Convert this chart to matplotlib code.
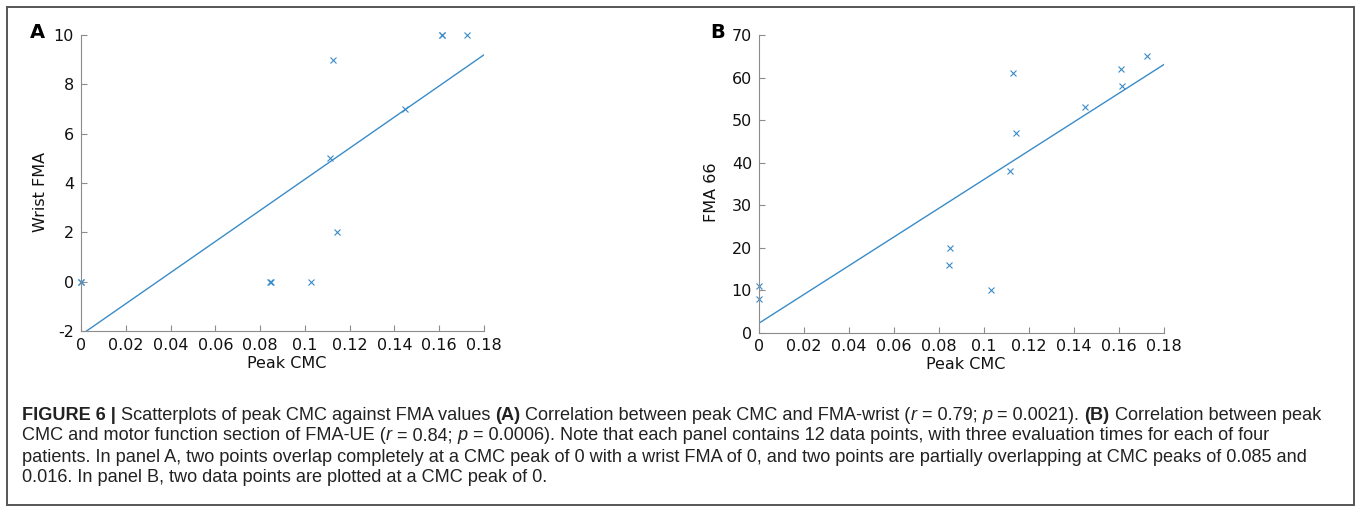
import numpy as np
import matplotlib
matplotlib.use("Agg")
import matplotlib.pyplot as plt
from matplotlib.patches import Rectangle

# --- Data ---
cmc_a = [0.0, 0.0, 0.0845, 0.085, 0.1027, 0.1114, 0.1127, 0.1142, 0.1449, 0.1612, 0.1613, 0.1726]
wrist_fma = [0, 0, 0, 0, 0, 5, 9, 2, 7, 10, 10, 10]

cmc_b = [0.0, 0.0, 0.0844, 0.0849, 0.1030, 0.1114, 0.1127, 0.1142, 0.1447, 0.1609, 0.1613, 0.1723]
fma_66 = [11, 8, 16, 20, 10, 38, 61, 47, 53, 62, 58, 65]

x_ticks = [0, 0.02, 0.04, 0.06, 0.08, 0.1, 0.12, 0.14, 0.16, 0.18]
x_ticklabels = ["0", "0.02", "0.04", "0.06", "0.08", "0.1", "0.12", "0.14", "0.16", "0.18"]
y_ticks_a = [-2, 0, 2, 4, 6, 8, 10]
y_ticks_b = [0, 10, 20, 30, 40, 50, 60, 70]

BLUE = "#3a8cc8"
SPINE = "#8c8c8c"

W, H = 1358, 511
fig = plt.figure(figsize=(W / 100, H / 100), dpi=100)


def draw_panel(rect, x, y, yticks, ylabel, ylabel_x, letter, letter_xy):
    ax = fig.add_axes(rect)
    ax.plot(x, y, "x", color=BLUE, ms=4.5, mew=0.8, clip_on=False)
    # least-squares fit line over the plotted x range
    slope, icpt = np.polyfit(x, y, 1)
    xl = np.array([0, 0.18])
    ax.plot(xl, slope * xl + icpt, color=BLUE, lw=1.0)
    ax.set_xlim(0, 0.18)
    ax.set_ylim(yticks[0], yticks[-1])
    ax.set_xticks(x_ticks)
    ax.set_xticklabels(x_ticklabels)
    ax.set_yticks(yticks)
    ax.set_yticklabels([str(v) for v in yticks])
    for s in ["top", "right"]:
        ax.spines[s].set_visible(False)
    for s in ["left", "bottom"]:
        ax.spines[s].set_color(SPINE)
        ax.spines[s].set_linewidth(0.8)
    ax.tick_params(direction="in", length=4, width=0.8, color=SPINE,
                   labelsize=11.5, labelcolor="#111111", pad=5)
    ax.set_xlabel("Peak CMC", fontsize=11.5, color="#111111")
    ax.set_ylabel(ylabel, fontsize=11.5, color="#111111")
    ax.xaxis.set_label_coords(0.51, -0.083)
    ax.yaxis.set_label_coords(ylabel_x, 0.47)
    fig.text(letter_xy[0] / W, 1 - letter_xy[1] / H, letter, fontsize=14,
             fontweight="bold", ha="center", va="center")
    return ax


draw_panel([81 / W, 1 - 331 / H, 403 / W, 296 / H], cmc_a, wrist_fma,
           y_ticks_a, "Wrist FMA", -0.082, "A", (37, 32))
draw_panel([759 / W, 1 - 332.5 / H, 405 / W, 297.5 / H], cmc_b, fma_66,
           y_ticks_b, "FMA 66", -0.10, "B", (718, 32))

# outer frame around plots and caption
fig.patches.append(Rectangle((7 / W, 1 - 505 / H), 1347 / W, 498 / H,
                             transform=fig.transFigure, fill=False,
                             edgecolor="#555555", lw=1.4))

# --- Caption, drawn piece by piece for mixed styles ---
N, B_, I_ = "normal", "bold", "italic"
caption = [
    [("FIGURE 6 | ", B_), ("Scatterplots of peak CMC against FMA values ", N), ("(A)", B_),
     (" Correlation between peak CMC and FMA-wrist (", N), ("r", I_), (" = 0.79; ", N),
     ("p", I_), (" = 0.0021). ", N), ("(B)", B_), (" Correlation between peak", N)],
    [("CMC and motor function section of FMA-UE (", N), ("r", I_), (" = 0.84; ", N), ("p", I_),
     (" = 0.0006). Note that each panel contains 12 data points, with three evaluation times for each of four", N)],
    [("patients. In panel A, two points overlap completely at a CMC peak of 0 with a wrist FMA of 0, "
      "and two points are partially overlapping at CMC peaks of 0.085 and", N)],
    [("0.016. In panel B, two data points are plotted at a CMC peak of 0.", N)],
]

renderer = fig.canvas.get_renderer()
y0, dy = 415, 21
for i, line in enumerate(caption):
    xpos = 22
    for txt, sty in line:
        kw = dict(fontsize=13.1, family=["Liberation Sans", "DejaVu Sans"], color="#222222",
                  va="center", ha="left")
        if sty == B_:
            kw["fontweight"] = "bold"
        elif sty == I_:
            kw["fontstyle"] = "italic"
        t = fig.text(xpos / W, 1 - (y0 + i * dy) / H, txt, **kw)
        xpos += t.get_window_extent(renderer).width

fig.savefig("out.png", dpi=100)
